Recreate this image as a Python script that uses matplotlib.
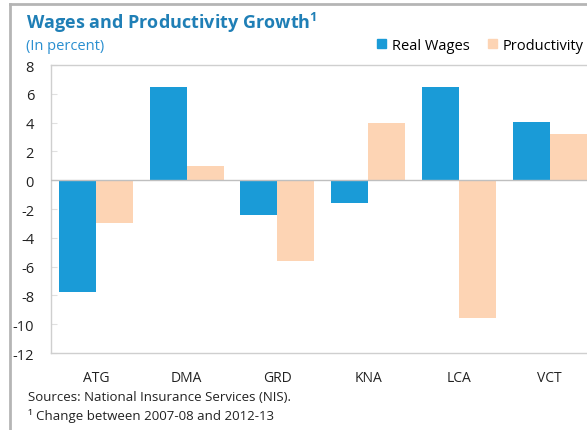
import matplotlib
matplotlib.use("Agg")
import matplotlib.pyplot as plt
from matplotlib.lines import Line2D
from matplotlib.patches import Patch
import numpy as np

plt.rcParams['font.family'] = ['Open Sans', 'DejaVu Sans']
plt.rcParams['mathtext.fontset'] = 'custom'
plt.rcParams['mathtext.rm'] = 'Open Sans'
plt.rcParams['mathtext.bf'] = 'Open Sans:bold'

categories = ["ATG", "DMA", "GRD", "KNA", "LCA", "VCT"]
real_wages = [-7.75, 6.5, -2.45, -1.55, 6.45, 4.05]
productivity = [-2.95, 1.0, -5.6, 4.0, -9.6, 3.2]
yticks = [8, 6, 4, 2, 0, -2, -4, -6, -8, -10, -12]

W, H = 587, 431
fig = plt.figure(figsize=(W / 100, H / 100), dpi=100)

left, right, top, bottom = 50.7, 50.7 + 6 * 90.7, 66, 354
ax = fig.add_axes([left / W, 1 - bottom / H, (right - left) / W, (bottom - top) / H])

blue = "#1a9bd7"
peach = "#fdd4b4"
x = np.arange(len(categories))
bw = 0.408
ax.bar(x - bw / 2, real_wages, bw, color=blue, label="Real Wages")
ax.bar(x + bw / 2, productivity, bw, color=peach, label="Productivity")

ax.set_xlim(-0.5, len(categories) - 0.5)
ax.set_ylim(-12, 8)
ax.set_yticks(yticks)
ax.set_yticklabels([str(v) for v in yticks])
ax.set_xticks(x)
ax.set_xticklabels(categories)
ax.axhline(0, color="#bfbfbf", lw=1.0, zorder=3)

for s in ax.spines.values():
    s.set_color("#cfcfcf")
    s.set_linewidth(1.0)
ax.tick_params(axis="y", direction="in", length=4, color="#e0e0e0", labelsize=10.5, pad=12, labelcolor="#222222")
ax.tick_params(axis="x", length=0, labelsize=10, pad=12, labelcolor="#222222")

fig.text(26 / W, 1 - 23 / H, r"Wages and Productivity Growth$^{\mathbf{1}}$", fontsize=13, fontweight="bold",
         color="#1f7fb6", va="center", ha="left")
fig.text(26 / W, 1 - 47 / H, "(In percent)", fontsize=10.5, color="#2a8fd0", va="center", ha="left")

handles = [Patch(color=blue, label="Real Wages"), Patch(color=peach, label="Productivity")]
fig.legend(handles=handles, loc="center left", bbox_to_anchor=(377 / W, 1 - 46 / H), ncol=2,
           frameon=False, fontsize=10.5, handlelength=0.6, handleheight=0.6, handletextpad=0.4,
           columnspacing=1.3, borderaxespad=0, borderpad=0)

fig.text(28 / W, 1 - 398 / H, "Sources: National Insurance Services (NIS).", fontsize=9.5,
         color="#222222", va="center", ha="left")
fig.text(28 / W, 1 - 416 / H, "¹ Change between 2007-08 and 2012-13", fontsize=9.5,
         color="#222222", va="center", ha="left")

# outer frame lines
fig.add_artist(Line2D([10 / W, 10 / W], [0, 1 - 5 / H], transform=fig.transFigure, color="#b5b5b5", lw=2))
fig.add_artist(Line2D([10 / W, 1], [1 - 5 / H, 1 - 5 / H], transform=fig.transFigure, color="#b5b5b5", lw=2))

fig.savefig("out.png", dpi=100)
